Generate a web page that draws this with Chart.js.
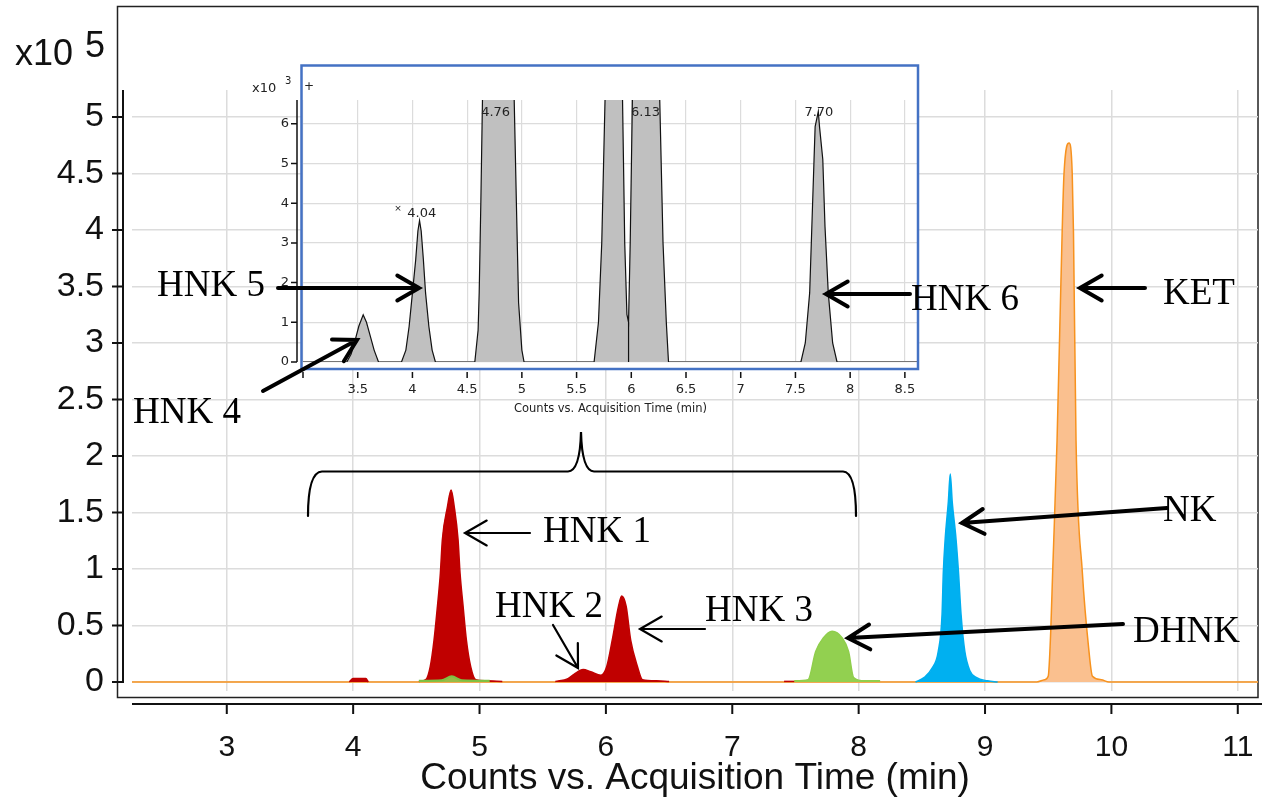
<!DOCTYPE html>
<html lang="en">
<head>
<meta charset="UTF-8">
<title>Chromatogram - HNK / NK / KET</title>
<script src="https://cdn.jsdelivr.net/npm/chart.js"></script>
<style>
    body { margin: 0; background: #fff; }
    .wrap { position: relative; width: 1262px; height: 808px; }
    .wrap canvas { position: absolute; left: 0; top: 0; }
</style>
</head>
<body>
<div class="wrap">
    <canvas id="mainChart" width="1262" height="808"></canvas>
    <canvas id="insetChart" width="1262" height="808"></canvas>
</div>
<script>
// ---- main chromatogram (counts x10^5 vs time, min) ----
const mainXTicks = [3, 4, 5, 6, 7, 8, 9, 10, 11];
const mainYTicks = [0, 0.5, 1, 1.5, 2, 2.5, 3, 3.5, 4, 4.5, 5];

// KET trace (orange) also carries the full baseline
const ketTrace = [[2.25, 0], [9.41, 0], [9.47, 0.02], [9.50, 0.05], [9.52, 0.45], [9.535, 0.97],
    [9.57, 2.14], [9.61, 3.97], [9.625, 4.5], [9.665, 4.77], [9.69, 4.5], [9.70, 3.97],
    [9.72, 2.14], [9.77, 0.97], [9.82, 0.3], [9.85, 0.05], [9.92, 0.02], [9.98, 0], [11.16, 0]];
const nkTrace = [[8.45, 0], [8.52, 0.04], [8.58, 0.12], [8.63, 0.27], [8.66, 0.6], [8.67, 0.97],
    [8.685, 1.27], [8.71, 1.6], [8.725, 1.84], [8.74, 1.6], [8.77, 1.27], [8.79, 0.97],
    [8.81, 0.6], [8.84, 0.27], [8.88, 0.1], [8.93, 0.04], [9.02, 0.01], [9.10, 0]];
const dhnkTrace = [[7.49, 0.01], [7.60, 0.02], [7.66, 0.27], [7.72, 0.39], [7.79, 0.45],
    [7.87, 0.39], [7.92, 0.27], [7.96, 0.04], [8.05, 0.01], [8.17, 0.01]];
const greenUnderHnk1 = [[4.52, 0.01], [4.70, 0.015], [4.78, 0.05], [4.86, 0.015], [5.08, 0.01]];
const hnk4Trace = [[3.97, 0], [4.00, 0.03], [4.10, 0.03], [4.12, 0]];
const hnk1Trace = [[4.52, 0.005], [4.575, 0.02], [4.61, 0.135], [4.64, 0.37], [4.667, 0.67],
    [4.69, 0.96], [4.706, 1.26], [4.746, 1.55], [4.775, 1.70], [4.80, 1.55], [4.83, 1.26],
    [4.846, 0.96], [4.87, 0.67], [4.896, 0.37], [4.93, 0.135], [4.97, 0.02], [5.05, 0.01], [5.18, 0.005]];
const hnk23Trace = [[5.60, 0.005], [5.70, 0.03], [5.75, 0.07], [5.82, 0.11], [5.88, 0.09],
    [5.96, 0.06], [6.006, 0.135], [6.05, 0.37], [6.10, 0.67], [6.125, 0.76], [6.16, 0.67],
    [6.196, 0.37], [6.25, 0.135], [6.29, 0.02], [6.40, 0.01], [6.50, 0.005]];
const redTail = [[7.41, 0.005], [7.49, 0.005]];

// ---- inset (counts x10^3 vs time) ----
const insetXTicks = [3, 3.5, 4, 4.5, 5, 5.5, 6, 6.5, 7, 7.5, 8, 8.5];
const insetYTicks = [0, 1, 2, 3, 4, 5, 6];
const insetTrace = [[3.0, 0], [3.40, 0], [3.44, 0.2], [3.47, 0.48], [3.51, 0.9], [3.55, 1.19],
    [3.58, 1.0], [3.62, 0.6], [3.65, 0.3], [3.69, 0],
    [3.90, 0], [3.94, 0.3], [3.97, 0.9], [4.00, 1.74], [4.03, 2.58], [4.05, 3.3], [4.065, 3.56],
    [4.08, 3.3], [4.10, 2.58], [4.12, 1.74], [4.15, 0.9], [4.18, 0.3], [4.21, 0],
    [4.57, 0], [4.60, 0.8], [4.61, 1.74], [4.625, 4.0], [4.64, 6.6], [4.76, 170],
    [4.93, 6.6], [4.95, 4.0], [4.97, 1.5], [5.00, 0.3], [5.02, 0],
    [5.66, 0], [5.70, 1.0], [5.73, 3.0], [5.76, 6.6], [5.82, 11], [5.92, 6.6], [5.94, 3.0],
    [5.96, 1.2], [5.975, 1.0], [5.99, 3.0], [6.01, 6.6], [6.13, 76], [6.26, 6.6], [6.29, 3.0],
    [6.32, 1.0], [6.34, 0],
    [7.55, 0], [7.59, 0.48], [7.63, 1.74], [7.65, 3.42], [7.67, 5.1], [7.68, 5.93], [7.709, 6.31],
    [7.72, 5.93], [7.75, 5.1], [7.77, 3.42], [7.80, 1.74], [7.84, 0.48], [7.88, 0], [8.62, 0]];
const insetDropLine = [[5.975, 0], [5.975, 1.0]];
const insetPeakLabels = [['4.04', 4.085, 3.66], ['4.76', 4.76, 6.2], ['6.13', 6.13, 6.2], ['7.70', 7.714, 6.2]];

const pts = arr => arr.map(p => ({x: p[0], y: p[1]}));
const SANS = '"Liberation Sans", Arial, sans-serif';
const SERIF = '"Liberation Serif", "Times New Roman", serif';
const SMALL = '"DejaVu Sans", Verdana, sans-serif';
Chart.defaults.font.family = SANS;

function trace(data, line, fill, order, width) {
    return {
        data: pts(data), borderColor: line, backgroundColor: fill, fill: 'origin',
        borderWidth: width || 1.5, pointRadius: 0, cubicInterpolationMode: 'monotone', order: order
    };
}

// keep chart area exactly where the scale sizes put it
function noPad(s) {
    s.paddingLeft = 0; s.paddingRight = 0; s.paddingTop = 0; s.paddingBottom = 0;
}

const mainAxes = {
    id: 'mainAxes',
    beforeDraw(chart) {
        const c = chart.ctx;
        c.save();
        c.strokeStyle = '#222';
        c.lineWidth = 1.5;
        c.strokeRect(117.5, 6.5, 1140.5, 691);
        c.restore();
    },
    afterDraw(chart) {
        const {ctx: c, scales: {x, y}} = chart;
        c.save();
        c.strokeStyle = '#111';
        c.lineWidth = 2;
        c.beginPath();
        c.moveTo(123, chart.chartArea.top);
        c.lineTo(123, y.getPixelForValue(0) + 1);
        y.ticks.forEach(t => {
            const p = y.getPixelForValue(t.value);
            c.moveTo(112, p); c.lineTo(123, p);
        });
        c.moveTo(x.left, 704); c.lineTo(1262, 704);
        x.ticks.forEach(t => {
            const p = x.getPixelForValue(t.value);
            c.moveTo(p, 704); c.lineTo(p, 714);
        });
        c.stroke();
        c.fillStyle = '#111';
        c.font = '36px ' + SANS;
        c.fillText('x10', 15, 65);
        c.fillText('5', 85, 57);
        c.restore();
    }
};

new Chart(document.getElementById('mainChart'), {
    type: 'line',
    data: {
        datasets: [
            trace(greenUnderHnk1, '#7cc142', 'rgba(146,208,80,0.9)', 0, 2),
            trace(hnk4Trace, '#c00000', '#c00000', 1),
            trace(hnk1Trace, '#c00000', '#c00000', 1),
            trace(hnk23Trace, '#c00000', '#c00000', 1),
            trace(redTail, '#c00000', '#c00000', 1),
            trace(dhnkTrace, '#8fce4c', '#92d050', 2),
            trace(nkTrace, '#00aeef', '#00b0f0', 3),
            trace(ketTrace, '#f7921e', '#fac08f', 4)
        ]
    },
    options: {
        responsive: false,
        animation: false,
        events: [],
        layout: { padding: { top: 90, right: 4, left: 0, bottom: 0 } },
        plugins: { legend: { display: false }, tooltip: { enabled: false } },
        scales: {
            x: {
                type: 'linear', min: 2.25, max: 11.16,
                afterBuildTicks: s => { s.ticks = mainXTicks.map(v => ({value: v})); },
                afterFit: s => { s.height = 117; noPad(s); },
                grid: { color: '#dcdcdc', lineWidth: 1.5, drawTicks: false },
                border: { display: false },
                ticks: { padding: 39, color: '#111', font: { size: 30 }, maxRotation: 0, autoSkip: false,
                    callback: v => String(v) },
                title: { display: true, text: 'Counts vs. Acquisition Time (min)', color: '#111',
                    font: { size: 37 }, padding: { top: 0, bottom: 7 } }
            },
            y: {
                type: 'linear', min: -0.08, max: 5.24,
                afterBuildTicks: s => { s.ticks = mainYTicks.map(v => ({value: v})); },
                afterFit: s => { s.width = 132; noPad(s); },
                grid: { color: '#dcdcdc', lineWidth: 1.5, drawTicks: false },
                border: { display: false },
                ticks: { padding: 28, color: '#111', font: { size: 34 }, callback: v => String(v) }
            }
        }
    },
    plugins: [mainAxes]
});

function arrow(c, x1, y1, x2, y2, lw, head) {
    const a = Math.atan2(y2 - y1, x2 - x1);
    const h = head || 25, spread = 0.52;
    c.lineWidth = lw;
    c.beginPath();
    c.moveTo(x1, y1); c.lineTo(x2, y2);
    c.moveTo(x2 - h * Math.cos(a - spread), y2 - h * Math.sin(a - spread));
    c.lineTo(x2, y2);
    c.lineTo(x2 - h * Math.cos(a + spread), y2 - h * Math.sin(a + spread));
    c.stroke();
}

const insetDecor = {
    id: 'insetDecor',
    beforeDraw(chart) {
        const c = chart.ctx;
        c.save();
        c.fillStyle = '#fff';
        c.fillRect(301, 65, 617, 304);
        c.restore();
    },
    afterDraw(chart) {
        const {ctx: c, scales: {x, y}} = chart;
        c.save();
        // inset axes
        c.strokeStyle = '#111';
        c.lineWidth = 1.5;
        c.beginPath();
        c.moveTo(297, chart.chartArea.top); c.lineTo(297, y.getPixelForValue(0));
        y.ticks.forEach(t => {
            const p = y.getPixelForValue(t.value);
            c.moveTo(291, p); c.lineTo(297, p);
        });
        x.ticks.forEach(t => {
            const p = x.getPixelForValue(t.value);
            c.moveTo(p, 372); c.lineTo(p, 378);
        });
        c.stroke();
        c.strokeStyle = '#4472c4';
        c.lineWidth = 2.5;
        c.strokeRect(301.5, 65.5, 616.5, 303.5);

        c.fillStyle = '#222';
        c.font = '13px ' + SMALL;
        c.fillText('x10', 252, 92);
        c.font = '10px ' + SMALL;
        c.fillText('3', 285, 84);
        c.font = '12px ' + SMALL;
        c.fillText('+', 304, 90);
        c.textAlign = 'center';
        c.font = '13px ' + SMALL;
        insetPeakLabels.forEach(([txt, t, h]) => {
            c.fillText(txt, x.getPixelForValue(t), y.getPixelForValue(h));
        });
        c.font = '9px ' + SMALL;
        c.fillText('×', 398, 211);

        // annotations
        c.fillStyle = '#000';
        c.strokeStyle = '#000';
        c.textAlign = 'left';
        c.font = '37px ' + SERIF;
        [['HNK 1', 543, 542], ['HNK 2', 495, 617], ['HNK 3', 705, 621], ['DHNK', 1133, 642],
         ['NK', 1163, 521], ['KET', 1163, 304], ['HNK 5', 157, 296], ['HNK 6', 911, 310],
         ['HNK 4', 133, 423]].forEach(([t, px, py]) => c.fillText(t, px, py));

        c.lineCap = 'round';
        arrow(c, 530, 533, 465, 533, 2.2);
        arrow(c, 553, 625, 578, 668, 2.2);
        arrow(c, 705, 629, 640, 629, 2.2);
        arrow(c, 278, 288, 419, 288, 4);
        arrow(c, 910, 294, 826, 294, 4);
        arrow(c, 1145, 288, 1080, 288, 4);
        arrow(c, 1167, 508, 962, 523, 4);
        arrow(c, 1123, 624, 848, 638, 4);
        arrow(c, 263, 391, 357, 340, 4);

        // brace over the HNK region
        c.lineWidth = 2.2;
        c.beginPath();
        c.moveTo(308, 516);
        c.quadraticCurveTo(308, 472, 322, 471.5);
        c.lineTo(568, 471.5);
        c.quadraticCurveTo(580, 471, 581, 432);
        c.quadraticCurveTo(582, 471, 594, 471.5);
        c.lineTo(843, 471.5);
        c.quadraticCurveTo(856, 472, 856, 516);
        c.stroke();
        c.restore();
    }
};

new Chart(document.getElementById('insetChart'), {
    type: 'line',
    data: {
        datasets: [
            { data: pts(insetDropLine), borderColor: '#111', borderWidth: 1.2, pointRadius: 0, fill: false, order: 0 },
            { data: pts(insetTrace), borderColor: '#111', backgroundColor: '#c0c0c0', fill: 'origin',
              borderWidth: 1.2, pointRadius: 0, tension: 0, order: 1 }
        ]
    },
    options: {
        responsive: false,
        animation: false,
        events: [],
        layout: { padding: { top: 100, right: 344, left: 0, bottom: 386 } },
        plugins: { legend: { display: false }, tooltip: { enabled: false } },
        scales: {
            x: {
                type: 'linear', min: 3.0, max: 8.62,
                afterBuildTicks: s => { s.ticks = insetXTicks.map(v => ({value: v})); },
                afterFit: s => { s.height = 60; noPad(s); },
                grid: { color: '#dcdcdc', lineWidth: 1.2, drawTicks: false },
                border: { display: false },
                ticks: { padding: 20, color: '#222', font: { size: 13, family: SMALL },
                    maxRotation: 0, autoSkip: false, callback: v => (v === 3 ? '' : String(v)) },
                title: { display: true, text: 'Counts vs. Acquisition Time (min)', color: '#222',
                    font: { size: 11.5, family: SMALL }, padding: { top: 0, bottom: 6 } }
            },
            y: {
                type: 'linear', min: 0, max: 6.6,
                afterBuildTicks: s => { s.ticks = insetYTicks.map(v => ({value: v})); },
                afterFit: s => { s.width = 303; noPad(s); },
                grid: { color: '#dcdcdc', lineWidth: 1.2, drawTicks: false },
                border: { display: false },
                ticks: { padding: 14, color: '#222', font: { size: 13, family: SMALL },
                    callback: v => String(v) }
            }
        }
    },
    plugins: [insetDecor]
});
</script>
</body>
</html>
